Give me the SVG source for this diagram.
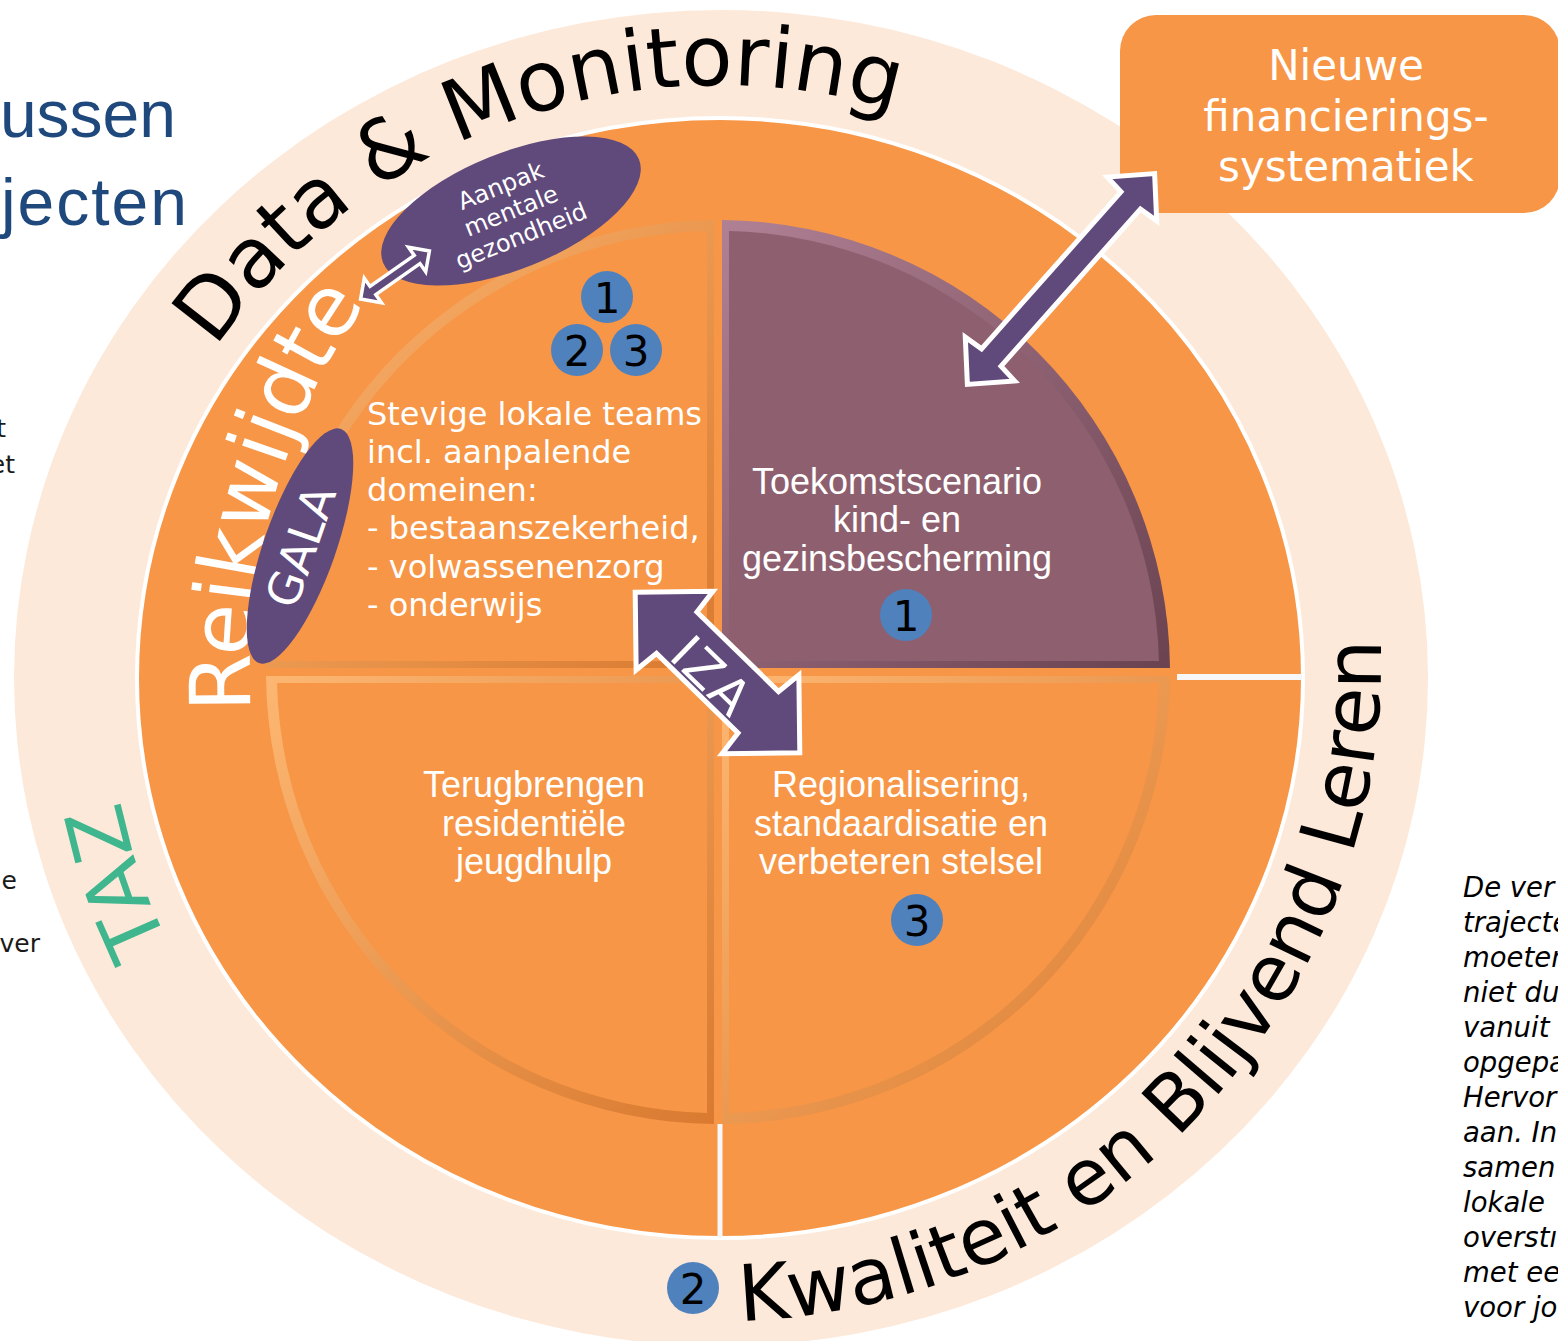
<svg xmlns="http://www.w3.org/2000/svg" width="1558" height="1341" viewBox="0 0 1558 1341">
<style>
.ring{font-family:"DejaVu Sans",Verdana,sans-serif;}
.qa{font-family:"Liberation Sans",Arial,sans-serif;font-size:36px;fill:#ffffff;text-anchor:middle;}
.qv{font-family:"DejaVu Sans",Verdana,sans-serif;font-size:32px;fill:#ffffff;}
.num{font-family:"DejaVu Sans",Verdana,sans-serif;font-size:42px;fill:#000000;text-anchor:middle;}
.badge{fill:#4F81BD;}
.side{font-family:"DejaVu Sans",Verdana,sans-serif;font-size:25px;fill:#1a1a1a;text-anchor:end;}
.ital{font-family:"DejaVu Sans",Verdana,sans-serif;font-size:27.5px;font-style:italic;fill:#000000;}
.arrow{fill:#604A7B;stroke:#ffffff;stroke-width:5;stroke-linejoin:miter;}
</style>
<defs>
<linearGradient id="bevO" x1="0" y1="0" x2="1" y2="1">
<stop offset="0" stop-color="#FDB772"/><stop offset="1" stop-color="#D97A30"/>
</linearGradient>
<linearGradient id="bevM" x1="0" y1="0" x2="1" y2="1">
<stop offset="0" stop-color="#B08094"/><stop offset="1" stop-color="#6A4250"/>
</linearGradient>
<path id="pDM" d="M 720 1315 A 615 615 0 1 1 720 85 A 615 615 0 1 1 720 1315"/>
<path id="pRW" d="M 720 1248 A 470 570 0 0 1 250 678 A 470 570 0 0 1 720 108 A 470 570 0 0 1 1190 678"/>
<path id="pTAZ" d="M 720 1290 A 612 612 0 1 1 720 66 A 612 612 0 1 1 720 1290"/>
<path id="pKW" d="M 720 1321 A 661 661 0 1 0 720 -1 A 661 661 0 1 0 720 1321"/>
</defs>

<g id="background-text">
<text x="176" y="137" style="font-family:'Liberation Sans',Arial,sans-serif;font-size:66px;fill:#1F497D;text-anchor:end">ussen</text>
<text x="189" y="225" style="font-family:'Liberation Sans',Arial,sans-serif;font-size:66px;fill:#1F497D;text-anchor:end;letter-spacing:2px">jecten</text>
<text class="side" x="6" y="437">t</text>
<text class="side" x="15" y="473">et</text>
<text class="side" x="17" y="889">e</text>
<text class="side" x="40" y="952">ver</text>
<g class="ital">
<text x="1463" y="897">De ver</text>
<text x="1463" y="932">trajecten</text>
<text x="1463" y="967">moeten</text>
<text x="1463" y="1002">niet du</text>
<text x="1463" y="1037">vanuit</text>
<text x="1463" y="1072">opgepa</text>
<text x="1463" y="1107">Hervor</text>
<text x="1463" y="1142">aan. In</text>
<text x="1463" y="1177">samen</text>
<text x="1463" y="1212">lokale</text>
<text x="1463" y="1247">overstı</text>
<text x="1463" y="1282">met ee</text>
<text x="1463" y="1317">voor jo</text>
</g>
</g>

<g id="outer-ring">
<ellipse cx="721" cy="678" rx="707" ry="668" fill="#FDE9D9"/>
<ellipse cx="720" cy="678" rx="583" ry="560" fill="#F79646" stroke="#ffffff" stroke-width="4"/>
<line x1="1177" y1="677" x2="1302" y2="677" stroke="#F7F7F7" stroke-width="6"/>
<line x1="720" y1="1124" x2="720" y2="1238" stroke="#F7F7F7" stroke-width="5"/>
</g>

<g id="ring-labels" class="ring">
<text style="font-size:84px;fill:#000"><textPath href="#pDM" startOffset="1341">Data &amp; Monitoring</textPath></text>
<text style="font-size:84px;fill:#fff"><textPath href="#pRW" startOffset="785">Reikwijdte</textPath></text>
<text style="font-size:80px;fill:#3FB68E"><textPath href="#pTAZ" startOffset="686">TAZ</textPath></text>
<text style="font-size:78px;fill:#000"><textPath href="#pKW" startOffset="20">Kwaliteit en Blijvend Leren</textPath></text>
</g>

<g id="q-lokale-teams">
<path d="M 714 668 L 714 220 A 452 452 0 0 0 266 668 Z" fill="url(#bevO)"/>
<path d="M 707 661 L 707 231 A 441 441 0 0 0 277 661 Z" fill="#F79646"/>
<text class="qv" x="367" y="425">Stevige lokale teams</text>
<text class="qv" x="367" y="463">incl. aanpalende</text>
<text class="qv" x="367" y="501">domeinen:</text>
<text class="qv" x="367" y="539">- bestaanszekerheid,</text>
<text class="qv" x="367" y="578">- volwassenenzorg</text>
<text class="qv" x="367" y="616">- onderwijs</text>
</g>

<g id="q-toekomstscenario">
<path d="M 722 668 L 1170 668 A 452 452 0 0 0 722 220 Z" fill="url(#bevM)"/>
<path d="M 729 661 L 1159 661 A 441 441 0 0 0 729 231 Z" fill="#8E5F6E"/>
<text class="qa" x="897" y="494">Toekomstscenario</text>
<text class="qa" x="897" y="532">kind- en</text>
<text class="qa" x="897" y="571">gezinsbescherming</text>
</g>

<g id="q-residentieel">
<path d="M 714 676 L 266 676 A 452 452 0 0 0 714 1124 Z" fill="url(#bevO)"/>
<path d="M 707 683 L 277 683 A 441 441 0 0 0 707 1113 Z" fill="#F79646"/>
<text class="qa" x="534" y="797">Terugbrengen</text>
<text class="qa" x="534" y="836">residentiële</text>
<text class="qa" x="534" y="874">jeugdhulp</text>
</g>

<g id="q-regionalisering">
<path d="M 722 676 L 722 1124 A 452 452 0 0 0 1170 676 Z" fill="url(#bevO)"/>
<path d="M 729 683 L 729 1113 A 441 441 0 0 0 1159 683 Z" fill="#F79646"/>
<text class="qa" x="901" y="797">Regionalisering,</text>
<text class="qa" x="901" y="836">standaardisatie en</text>
<text class="qa" x="901" y="874">verbeteren stelsel</text>
</g>

<g id="aanpak-mentale-gezondheid" transform="translate(511,211) rotate(-22)">
<ellipse cx="0" cy="0" rx="138" ry="58" fill="#604A7B"/>
<g style="font-family:'DejaVu Sans',Verdana,sans-serif;font-size:24px;fill:#fff;text-anchor:middle">
<text x="0" y="-19">Aanpak</text>
<text x="0" y="8">mentale</text>
<text x="0" y="35">gezondheid</text>
</g>
</g>

<g id="gala" transform="translate(300,546) rotate(-70.7)">
<ellipse cx="0" cy="0" rx="124" ry="36" fill="#604A7B"/>
<text x="0" y="17" style="font-family:'DejaVu Sans',Verdana,sans-serif;font-size:46px;fill:#fff;text-anchor:middle">GALA</text>
</g>

<g id="nieuwe-financieringssystematiek">
<rect x="1120" y="15" width="440" height="198" rx="36" fill="#F79646"/>
<g style="font-family:'DejaVu Sans',Verdana,sans-serif;font-size:42px;fill:#fff;text-anchor:middle">
<text x="1346" y="80">Nieuwe</text>
<text x="1346" y="131">financierings-</text>
<text x="1346" y="181">systematiek</text>
</g>
</g>

<g id="badges">
<circle class="badge" cx="607" cy="297" r="26"/><text class="num" x="607" y="313">1</text>
<circle class="badge" cx="577" cy="350" r="26"/><text class="num" x="577" y="366">2</text>
<circle class="badge" cx="636" cy="350" r="26"/><text class="num" x="636" y="366">3</text>
<circle class="badge" cx="906" cy="615" r="26"/><text class="num" x="906" y="631">1</text>
<circle class="badge" cx="917" cy="920" r="26"/><text class="num" x="917" y="936">3</text>
<circle class="badge" cx="693" cy="1288" r="26"/><text class="num" x="693" y="1304">2</text>
</g>

<g id="connectors">
<polygon class="arrow" transform="translate(1061,279) rotate(-48.4)" points="-141,0 -107,-33 -105,-13 105,-13 107,-33 141,0 107,33 105,13 -105,13 -107,33"/>
<polygon class="arrow" transform="translate(717.5,672.5) rotate(44.3)" points="-115,0 -60,-55 -57,-29 57,-29 60,-55 115,0 60,55 57,29 -57,29 -60,55"/>
<text transform="translate(712,676) rotate(44.3)" x="0" y="18" style="font-family:'DejaVu Sans',Verdana,sans-serif;font-size:50px;fill:#fff;text-anchor:middle;letter-spacing:2px">IZA</text>
<polygon class="arrow" style="stroke-width:3.5" transform="translate(395,275) rotate(-35)" points="-42,0 -27,-15 -27,-5 27,-5 27,-15 42,0 27,15 27,5 -27,5 -27,15"/>
</g>
</svg>
